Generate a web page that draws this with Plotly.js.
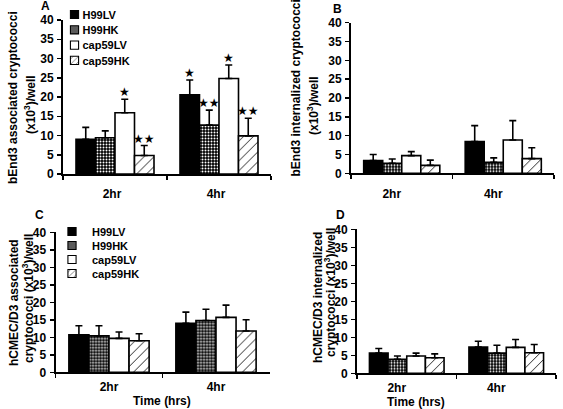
<!DOCTYPE html>
<html>
<head>
<meta charset="utf-8">
<script src="https://cdn.plot.ly/plotly-3.0.1.min.js"></script>
<style>html,body{margin:0;padding:0;background:#fff;}</style>
</head>
<body>
<div id="chart" style="width:563px;height:409px;"></div>
<script>
// ---------- data ----------
const categories = ['2hr', '4hr'];
const seriesNames = ['H99LV', 'H99HK', 'cap59LV', 'cap59HK'];
const yTicks = [0, 5, 10, 15, 20, 25, 30, 35, 40];

// Panel A: bEnd3 associated (means, upper error)
const panelA_means = [[9.0, 20.6], [9.4, 12.7], [15.9, 24.8], [4.8, 9.9]];
const panelA_errs  = [[3.1, 3.8], [1.8, 3.9], [3.5, 3.5], [2.6, 4.6]];
const panelA_stars = [['', '★'], ['', '★★'], ['★', '★'], ['★★', '★★']];
// Panel B: bEnd3 internalized
const panelB_means = [[3.4, 8.4], [2.65, 2.9], [4.7, 8.85], [2.1, 3.9]];
const panelB_errs  = [[1.6, 4.25], [1.15, 1.2], [1.05, 5.15], [1.4, 2.9]];
// Panel C: hCMEC/D3 associated
const panelC_means = [[10.7, 14.0], [10.4, 14.8], [9.7, 15.7], [9.0, 11.8]];
const panelC_errs  = [[2.6, 3.2], [2.9, 3.2], [1.8, 3.5], [2.0, 3.2]];
// Panel D: hCMEC/D3 internalized
const panelD_means = [[5.6, 7.3], [3.9, 5.6], [4.8, 7.2], [4.3, 5.7]];
const panelD_errs  = [[1.3, 1.6], [0.9, 2.2], [0.8, 2.2], [1.1, 2.3]];

// y-axis title lines per panel
const titleA = ['bEnd3 associated cryptococci', '(x10<sup>3</sup>)/well'];
const titleB = ['bEnd3 internalized cryptococci', '(x10<sup>3</sup>)/well'];
const titleC = ['hCMEC/D3 associated', 'cryptococci (x10<sup>3</sup>)/well'];
const titleD = ['hCMEC/D3 internalized', 'cryptococci (x10<sup>3</sup>)/well'];
const xTitle = 'Time (hrs)';

// ---------- styling ----------
const W = 563, H = 409;
const FONT = 'Liberation Sans, Arial, sans-serif';
const BARGAP = 0.25;
const seriesStyle = [
  {color: 'black'},
  {color: 'black', pattern: {shape: '.', bgcolor: 'black', fgcolor: 'white', size: 3, solidity: 0.35}},
  {color: 'white'},
  {color: 'white', pattern: {shape: '/', bgcolor: 'white', fgcolor: 'black', size: 7, solidity: 0.12}}
];

// pixel boxes of each plot area [left, right, top, bottom]
const boxes = {
  A: [63, 271, 20, 174],
  B: [351, 554, 22.7, 173.3],
  C: [55.5, 269.5, 232.3, 372.3],
  D: [357, 556, 229.3, 373.3]
};
function dom(b) {
  return {x: [b[0] / W, b[1] / W], y: [1 - b[3] / H, 1 - b[2] / H]};
}

const panels = [
  {key: 'A', xa: 'x', ya: 'y', means: panelA_means, errs: panelA_errs, legend: 'legend', showleg: true},
  {key: 'B', xa: 'x2', ya: 'y2', means: panelB_means, errs: panelB_errs, legend: 'legend', showleg: false},
  {key: 'C', xa: 'x3', ya: 'y3', means: panelC_means, errs: panelC_errs, legend: 'legend2', showleg: true},
  {key: 'D', xa: 'x4', ya: 'y4', means: panelD_means, errs: panelD_errs, legend: 'legend2', showleg: false}
];

const traces = [];
panels.forEach(p => {
  seriesNames.forEach((name, i) => {
    const st = seriesStyle[i];
    const marker = {color: st.color, line: {color: 'black', width: 1.6}};
    if (st.pattern) marker.pattern = st.pattern;
    traces.push({
      type: 'bar', name: name, x: categories, y: p.means[i],
      xaxis: p.xa, yaxis: p.ya, legend: p.legend, showlegend: p.showleg,
      marker: marker,
      error_y: {type: 'data', symmetric: false, array: p.errs[i],
                arrayminus: p.errs[i].map(() => 0), color: 'black', thickness: 1.6, width: 3.5},
      hoverinfo: 'skip'
    });
  });
});

function yAxis(b) {
  const d = dom(b);
  return {
    domain: d.y, range: [0, 40], tickvals: yTicks, ticks: 'outside', ticklen: 4, tickwidth: 1.5,
    tickcolor: 'black', showline: true, linewidth: 2, linecolor: 'black', showgrid: false, zeroline: false,
    tickfont: {family: FONT, size: 12, weight: 'bold', color: 'black'}, ticklabelstandoff: 1,
    fixedrange: true
  };
}
function xAxis(b, standoff, shift) {
  const d = dom(b);
  return {
    domain: d.x, type: 'category', tickson: 'boundaries', ticks: 'outside', ticklen: 4, tickwidth: 1.5,
    tickcolor: 'black', showline: true, linewidth: 2, linecolor: 'black', showgrid: false, zeroline: false,
    tickfont: {family: FONT, size: 12, weight: 'bold', color: 'black'},
    ticklabelstandoff: standoff, ticklabelshift: shift,
    fixedrange: true
  };
}

const legendFont = {family: FONT, size: 11, weight: 'bold', color: 'black'};
const layout = {
  width: W, height: H, margin: {l: 0, r: 0, t: 0, b: 0},
  paper_bgcolor: 'white', plot_bgcolor: 'white',
  font: {family: FONT, color: 'black'},
  barmode: 'group', bargap: BARGAP, bargroupgap: 0,
  xaxis:  Object.assign(xAxis(boxes.A, 8, -3), {anchor: 'y'}),
  yaxis:  Object.assign(yAxis(boxes.A), {anchor: 'x'}),
  xaxis2: Object.assign(xAxis(boxes.B, 8, -10), {anchor: 'y2'}),
  yaxis2: Object.assign(yAxis(boxes.B), {anchor: 'x2'}),
  xaxis3: Object.assign(xAxis(boxes.C, 2, 0), {anchor: 'y3'}),
  yaxis3: Object.assign(yAxis(boxes.C), {anchor: 'x3'}),
  xaxis4: Object.assign(xAxis(boxes.D, 2, -10), {anchor: 'y4'}),
  yaxis4: Object.assign(yAxis(boxes.D), {anchor: 'x4'}),
  legend: {x: 54.5 / W, y: 1, xanchor: 'left', yanchor: 'top', bgcolor: 'rgba(0,0,0,0)',
           font: legendFont, tracegroupgap: 0},
  legend2: {x: 52 / W, y: 1 - 217 / H, xanchor: 'left', yanchor: 'top', bgcolor: 'rgba(0,0,0,0)',
           font: legendFont, tracegroupgap: 0},
  annotations: [],
  hovermode: false
};

function paperText(text, px, py, size, angle) {
  layout.annotations.push({
    xref: 'paper', yref: 'paper', x: px / W, y: 1 - py / H, text: text, showarrow: false,
    xanchor: 'center', yanchor: 'middle', textangle: angle || 0,
    font: {family: FONT, size: size, weight: 'bold', color: 'black'}
  });
}
// panel letters
paperText('A', 45, 6, 12); paperText('B', 337, 9.5, 12);
paperText('C', 39, 215, 12); paperText('D', 340, 215, 12);
// y-axis titles (two lines each)
paperText(titleA[0], 13, 98, 12, -90);  paperText(titleA[1], 30, 104, 12, -90);
paperText(titleB[0], 295.5, 88, 12, -90); paperText(titleB[1], 313, 106, 12, -90);
paperText(titleC[0], 14, 303, 12, -90); paperText(titleC[1], 28, 299, 12, -90);
paperText(titleD[0], 318, 298, 12, -90); paperText(titleD[1], 330, 293, 12, -90);
// x titles
paperText(xTitle, 162, 401, 12); paperText(xTitle, 416, 402, 12);

// significance stars on panel A, placed over each bar of the group
const catPx = (boxes.A[1] - boxes.A[0]) / categories.length;
const barPx = catPx * (1 - BARGAP) / seriesNames.length;
seriesNames.forEach((name, i) => {
  categories.forEach((c, j) => {
    const s = panelA_stars[i][j];
    if (!s) return;
    layout.annotations.push({
      xref: 'x', yref: 'y', x: c, y: panelA_means[i][j] + panelA_errs[i][j], text: s, showarrow: false,
      xanchor: 'center', yanchor: 'bottom', xshift: (i - (seriesNames.length - 1) / 2) * barPx, yshift: -2,
      font: {family: 'DejaVu Sans', size: 12, color: 'black'}
    });
  });
});

Plotly.newPlot('chart', traces, layout, {staticPlot: true, displayModeBar: false}).then(() => {
  // tighten legend rows and swatch/text spacing like the original figure
  const rowStep = {legend: 15.3, legend2: 14};
  ['legend', 'legend2'].forEach(cls => {
    const g = document.querySelector('g.' + cls);
    if (!g) return;
    const items = g.querySelectorAll('g.traces');
    let y0 = null;
    items.forEach((it, k) => {
      const tr = it.getAttribute('transform') || '';
      const m = tr.match(/translate\(\s*([-\d.]+)[ ,]+([-\d.]+)\s*\)/);
      if (!m) return;
      if (y0 === null) y0 = parseFloat(m[2]);
      it.setAttribute('transform', 'translate(' + m[1] + ',' + (y0 + k * rowStep[cls]) + ')');
      const t = it.querySelector('text.legendtext');
      if (t) t.setAttribute('x', 28);
      it.querySelectorAll('.legendpoints path').forEach(p => {
        const pt = p.getAttribute('transform') || '';
        p.setAttribute('transform', pt + ' scale(0.68)');
      });
    });
  });
});
</script>
</body>
</html>
